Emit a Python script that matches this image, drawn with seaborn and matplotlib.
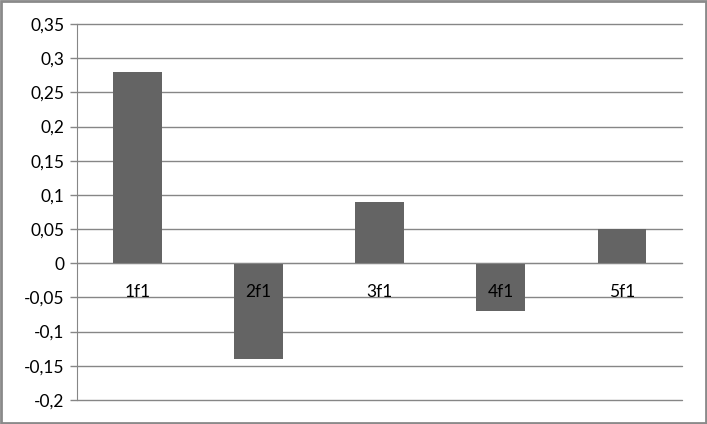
import numpy as np
import pandas as pd
import matplotlib
matplotlib.use("Agg")
import matplotlib.pyplot as plt
import seaborn as sns
from matplotlib.ticker import FuncFormatter, FixedLocator

# 数据
categories = ["1f1", "2f1", "3f1", "4f1", "5f1"]
values = [0.28, -0.14, 0.09, -0.07, 0.05]
y_ticks = [-0.2, -0.15, -0.1, -0.05, 0, 0.05, 0.1, 0.15, 0.2, 0.25, 0.3, 0.35]

sns.set_style("white")
plt.rcParams['font.family'] = ['Lato', 'DejaVu Sans']

df = pd.DataFrame({"cat": categories, "val": values})

fig = plt.figure(figsize=(7.07, 4.24), dpi=100)
ax = fig.add_axes([0.109, 0.057, 0.856, 0.886])

sns.barplot(data=df, x="cat", y="val", color="#646464", saturation=1,
            width=0.4, ax=ax, zorder=3, edgecolor="none", linewidth=0)

grid_c = "#868686"
ax.set_ylim(-0.2, 0.35)
ax.set_xlim(-0.5, 4.5)
ax.yaxis.set_major_locator(FixedLocator(y_ticks))
ax.yaxis.set_major_formatter(FuncFormatter(
    lambda v, p: ("%g" % round(v, 2)).replace(".", ",")))
ax.grid(axis="y", color=grid_c, linewidth=1)
ax.set_axisbelow(True)
for gl in ax.yaxis.get_gridlines():
    gl.set_clip_on(False)

for s in ["top", "right"]:
    ax.spines[s].set_visible(False)
ax.spines["left"].set_color(grid_c)
ax.spines["bottom"].set_color(grid_c)
ax.spines["bottom"].set_position(("data", 0))
ax.spines["bottom"].set_zorder(4)

ax.set_xticks(np.arange(-0.5, 5, 1), minor=True)
ax.tick_params(axis="x", which="minor", length=5, color=grid_c, width=1)
ax.tick_params(axis="x", which="major", length=0, pad=15, labelsize=12.5, labelcolor="black")
ax.tick_params(axis="y", length=5, color=grid_c, width=1, labelsize=12.5, pad=4, left=True,
               labelcolor="black")
ax.xaxis.set_zorder(5)
ax.set_xlabel("")
ax.set_ylabel("")

# 外框
fig.patches.append(plt.Rectangle((0.0015, 0.0025), 0.997, 0.995, transform=fig.transFigure,
                                 fill=False, edgecolor="#8a8a8a", linewidth=2))

fig.savefig("out.png", dpi=100)
